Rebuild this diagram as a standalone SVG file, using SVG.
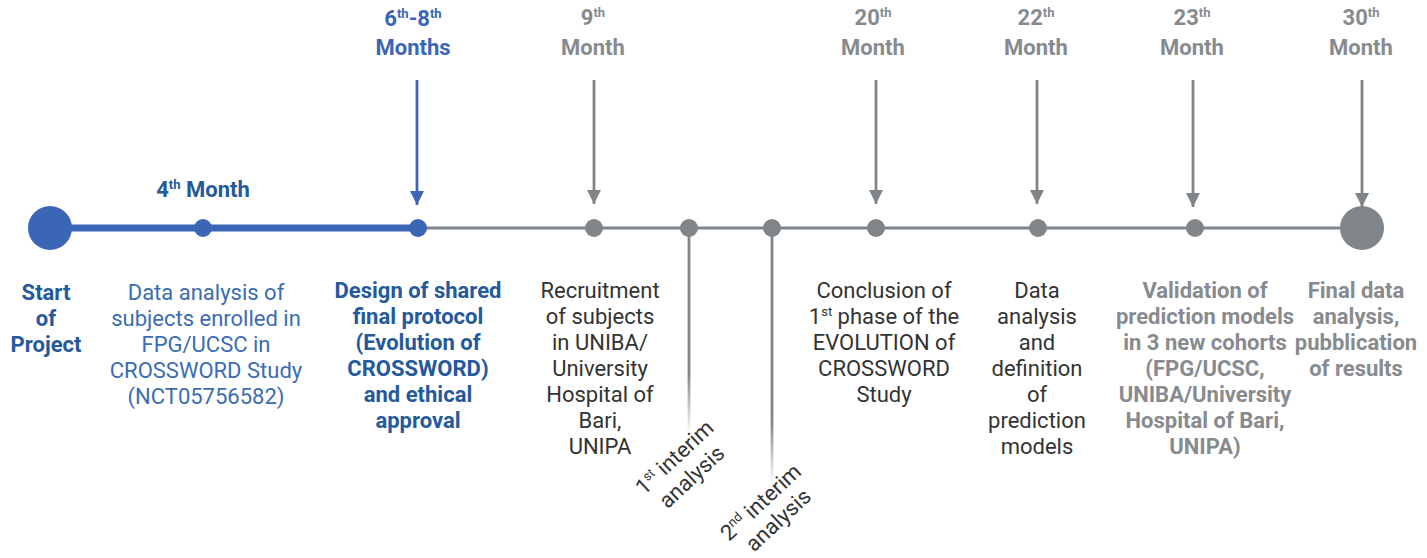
<svg xmlns="http://www.w3.org/2000/svg" width="1427" height="558" viewBox="0 0 1427 558">
  <style>
    text { font-family: Roboto, "Liberation Sans", Arial, sans-serif; font-size: 22px; text-anchor: middle; }
    .b { font-weight: bold; }
    .blueB { fill: #245a9c; }
    .blueR { fill: #3a6db3; }
    .grayB { fill: #878b8f; }
    .dark { fill: #333333; }
    .sup { font-size: 13px; }
    .rot { font-size: 22px; text-anchor: start; }
    .blueLine { stroke: #3a66b5; }
    .grayLine { stroke: #808589; }
  </style>
  <defs>
    <marker id="arrBlue" viewBox="0 0 10 10" refX="10" refY="5" markerWidth="5" markerHeight="5" markerUnits="strokeWidth" orient="auto">
      <path d="M0,0 L10,5 L0,10 Z" fill="#3a66b5"/>
    </marker>
    <marker id="arrGray" viewBox="0 0 10 10" refX="10" refY="5" markerWidth="5" markerHeight="5" markerUnits="strokeWidth" orient="auto">
      <path d="M0,0 L10,5 L0,10 Z" fill="#808589"/>
    </marker>
    <linearGradient id="fade1" gradientUnits="userSpaceOnUse" x1="0" y1="228" x2="0" y2="435">
      <stop offset="0" stop-color="#808589"/>
      <stop offset="0.7" stop-color="#808589"/>
      <stop offset="1" stop-color="#808589" stop-opacity="0"/>
    </linearGradient>
    <linearGradient id="fade2" gradientUnits="userSpaceOnUse" x1="0" y1="228" x2="0" y2="485">
      <stop offset="0" stop-color="#808589"/>
      <stop offset="0.75" stop-color="#808589"/>
      <stop offset="1" stop-color="#808589" stop-opacity="0"/>
    </linearGradient>
  </defs>

  <!-- connectors: timeline, arrows, interim drop lines -->
  <g id="connectors">
    <line class="grayLine" x1="418" y1="228" x2="1360" y2="228" stroke-width="3"/>
    <line class="blueLine" x1="50" y1="228" x2="418" y2="228" stroke-width="7"/>
    <line class="blueLine" x1="417" y1="80" x2="417" y2="205" stroke-width="2.8" marker-end="url(#arrBlue)"/>
    <line class="grayLine" x1="594" y1="80" x2="594" y2="204" stroke-width="2.8" marker-end="url(#arrGray)"/>
    <line class="grayLine" x1="876" y1="80" x2="876" y2="204" stroke-width="2.8" marker-end="url(#arrGray)"/>
    <line class="grayLine" x1="1037" y1="80" x2="1037" y2="204" stroke-width="2.8" marker-end="url(#arrGray)"/>
    <line class="grayLine" x1="1193" y1="80" x2="1193" y2="207" stroke-width="2.8" marker-end="url(#arrGray)"/>
    <line class="grayLine" x1="1362" y1="80" x2="1362" y2="207" stroke-width="2.8" marker-end="url(#arrGray)"/>
    <line x1="689" y1="228" x2="689" y2="435" stroke="url(#fade1)" stroke-width="2.8"/>
    <line x1="772" y1="228" x2="772" y2="485" stroke="url(#fade2)" stroke-width="2.8"/>
  </g>

  <!-- start of project -->
  <g id="start">
    <circle cx="50" cy="228" r="22" fill="#3a66b5"/>
    <text class="b blueB"><tspan x="46" y="300">Start</tspan><tspan x="46" y="326">of</tspan><tspan x="46" y="352">Project</tspan></text>
  </g>

  <!-- 4th month -->
  <g id="m4">
    <circle cx="203" cy="228" r="9" fill="#3a66b5"/>
    <text class="b blueB" x="203" y="197">4<tspan class="sup" dy="-8">th</tspan><tspan dy="8"> Month</tspan></text>
    <text class="blueR"><tspan x="206" y="300">Data analysis of</tspan><tspan x="206" y="326">subjects enrolled in</tspan><tspan x="206" y="352">FPG/UCSC in</tspan><tspan x="206" y="378">CROSSWORD Study</tspan><tspan x="206" y="404">(NCT05756582)</tspan></text>
  </g>

  <!-- 6th-8th months -->
  <g id="m6-8">
    <circle cx="418" cy="228" r="9" fill="#3a66b5"/>
    <text class="b" fill="#3a66b5" x="413" y="26">6<tspan class="sup" dy="-8">th</tspan><tspan dy="8">-8</tspan><tspan class="sup" dy="-8">th</tspan></text>
    <text class="b" fill="#3a66b5" x="413" y="55">Months</text>
    <text class="b blueB"><tspan x="418" y="298">Design of shared</tspan><tspan x="418" y="324">final protocol</tspan><tspan x="418" y="350">(Evolution of</tspan><tspan x="418" y="376">CROSSWORD)</tspan><tspan x="418" y="402">and ethical</tspan><tspan x="418" y="428">approval</tspan></text>
  </g>

  <!-- 9th month -->
  <g id="m9">
    <circle cx="594" cy="228" r="9" fill="#808589"/>
    <text class="b grayB" x="593" y="25">9<tspan class="sup" dy="-8">th</tspan></text>
    <text class="b grayB" x="593" y="55">Month</text>
    <text class="dark"><tspan x="600" y="298">Recruitment</tspan><tspan x="600" y="324">of subjects</tspan><tspan x="600" y="350">in UNIBA/</tspan><tspan x="600" y="376">University</tspan><tspan x="600" y="402">Hospital of</tspan><tspan x="600" y="428">Bari,</tspan><tspan x="600" y="454">UNIPA</tspan></text>
  </g>

  <!-- 1st interim analysis -->
  <g id="interim1">
    <circle cx="689" cy="228" r="9" fill="#808589"/>
    <text class="dark rot" transform="translate(644,496) rotate(-43)"><tspan x="0" y="0">1<tspan class="sup" dy="-8">st</tspan><tspan dy="8"> interim</tspan></tspan><tspan x="8" y="26">analysis</tspan></text>
  </g>

  <!-- 2nd interim analysis -->
  <g id="interim2">
    <circle cx="772" cy="228" r="9" fill="#808589"/>
    <text class="dark rot" transform="translate(729,542) rotate(-43)"><tspan x="0" y="0">2<tspan class="sup" dy="-8">nd</tspan><tspan dy="8"> interim</tspan></tspan><tspan x="11" y="25">analysis</tspan></text>
  </g>

  <!-- 20th month -->
  <g id="m20">
    <circle cx="876" cy="228" r="9" fill="#808589"/>
    <text class="b grayB" x="873" y="25">20<tspan class="sup" dy="-8">th</tspan></text>
    <text class="b grayB" x="873" y="55">Month</text>
    <text class="dark"><tspan x="884" y="298">Conclusion of</tspan><tspan x="884" y="324">1<tspan class="sup" dy="-8">st</tspan><tspan dy="8"> phase of the</tspan></tspan><tspan x="884" y="350">EVOLUTION of</tspan><tspan x="884" y="376">CROSSWORD</tspan><tspan x="884" y="402">Study</tspan></text>
  </g>

  <!-- 22nd month -->
  <g id="m22">
    <circle cx="1038" cy="228" r="9" fill="#808589"/>
    <text class="b grayB" x="1036" y="25">22<tspan class="sup" dy="-8">th</tspan></text>
    <text class="b grayB" x="1036" y="55">Month</text>
    <text class="dark"><tspan x="1037" y="298">Data</tspan><tspan x="1037" y="324">analysis</tspan><tspan x="1037" y="350">and</tspan><tspan x="1037" y="376">definition</tspan><tspan x="1037" y="402">of</tspan><tspan x="1037" y="428">prediction</tspan><tspan x="1037" y="454">models</tspan></text>
  </g>

  <!-- 23rd month -->
  <g id="m23">
    <circle cx="1195" cy="228" r="9" fill="#808589"/>
    <text class="b grayB" x="1192" y="25">23<tspan class="sup" dy="-8">th</tspan></text>
    <text class="b grayB" x="1192" y="55">Month</text>
    <text class="b grayB"><tspan x="1205" y="298">Validation of</tspan><tspan x="1205" y="324">prediction models</tspan><tspan x="1205" y="350">in 3 new cohorts</tspan><tspan x="1205" y="376">(FPG/UCSC,</tspan><tspan x="1205" y="402">UNIBA/University</tspan><tspan x="1205" y="428">Hospital of Bari,</tspan><tspan x="1205" y="454">UNIPA)</tspan></text>
  </g>

  <!-- 30th month -->
  <g id="m30">
    <circle cx="1362" cy="228" r="22" fill="#808589"/>
    <text class="b grayB" x="1361" y="25">30<tspan class="sup" dy="-8">th</tspan></text>
    <text class="b grayB" x="1361" y="55">Month</text>
    <text class="b grayB"><tspan x="1356" y="298">Final data</tspan><tspan x="1356" y="324">analysis,</tspan><tspan x="1356" y="350">pubblication</tspan><tspan x="1356" y="376">of results</tspan></text>
  </g>
</svg>
